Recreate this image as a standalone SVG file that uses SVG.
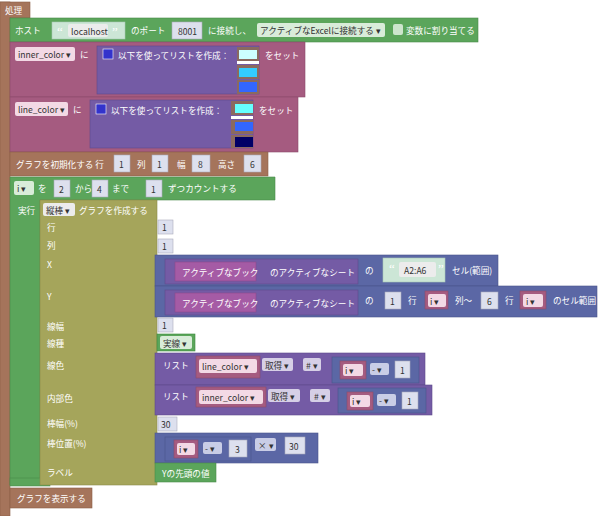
<svg xmlns="http://www.w3.org/2000/svg" width="600" height="516" viewBox="0 0 600 516">
<style>
text{font-family:"Noto Sans CJK JP","Liberation Sans",sans-serif;font-size:8.6px;fill:#fff;dominant-baseline:central}
.d{fill:#333}
.q{font-size:13px;font-family:"Liberation Serif",serif}
.br{fill:#A5745B;stroke:#8a5f48;stroke-width:.6}
.gr{fill:#5BA55B;stroke:#4a8a4a;stroke-width:.6}
.pk{fill:#A55B80;stroke:#8a4a6a;stroke-width:.6}
.pu{fill:#745BA5;stroke:#5e4a8a;stroke-width:.6}
.bl{fill:#5B67A5;stroke:#4a548a;stroke-width:.6}
.ol{fill:#A5A55B;stroke:#8a8a4a;stroke-width:.6}
.mg{fill:#A55BA5;stroke:#8a4a8a;stroke-width:.6}
.num{fill:#dde0ee;stroke:#aab;stroke-width:.6}
.f{fill:#ececec}
.vf{fill:#f3d9e5}
.str{fill:#cce6d6;stroke:#a8c8b4;stroke-width:.6}
</style>
<g id="proc"><rect class="br" x="0" y="2" width="30" height="16"/><rect class="br" x="0" y="2" width="10" height="514"/><rect x="1" y="3" width="28" height="14" fill="#A5745B"/><text x="5" y="10">処理</text></g>
<g id="host"><rect class="gr" x="10" y="18" width="468" height="24"/><text x="15" y="30">ホスト</text><rect class="str" x="52" y="22" width="73" height="17"/><text class="q" x="57" y="31" style="fill:#fff">“</text><rect class="f" x="68" y="24" width="40" height="13" rx="2"/><text class="d" x="71" y="30.5">localhost</text><text class="q" x="112" y="31" style="fill:#fff">”</text><text x="131" y="30">のポート</text><rect class="num" x="172" y="22" width="30" height="17"/><text class="d" x="178" y="30.5">8001</text><text x="208" y="30">に接続し、</text><rect class="f" x="257" y="23" width="128" height="14" rx="2" style="fill:#d9ecd9"/><text class="d" x="260" y="30">アクティブなExcelに接続する ▾</text><rect class="f" x="393" y="24" width="10" height="11" rx="2" style="fill:#cde5cd"/><text x="406" y="30">変数に割り当てる</text></g>
<g id="inner"><rect class="pk" x="10" y="42" width="295" height="55"/><rect class="vf" x="15" y="47" width="60" height="14" rx="2"/><text class="d" x="18" y="54">inner_color ▾</text><text x="80" y="54">に</text><rect class="pu" x="97" y="46" width="162" height="48"/><rect x="103" y="49" width="10" height="10" fill="#3333cc" stroke="#fff" stroke-width=".6"/><text x="118" y="55">以下を使ってリストを作成：</text><rect x="237" y="47" width="22" height="14" fill="#8a6a60"/><rect x="239" y="50" width="18" height="9" fill="#ccffff"/><rect x="237" y="61" width="22" height="3" fill="#fff"/><rect x="237" y="65" width="22" height="14" fill="#8a6a60"/><rect x="239" y="68" width="18" height="9" fill="#33ccff"/><rect x="237" y="80" width="22" height="14" fill="#8a6a60"/><rect x="239" y="82" width="18" height="10" fill="#3366ff"/><text x="265" y="55">をセット</text></g>
<g id="line"><rect class="pk" x="10" y="97" width="288" height="55"/><rect class="vf" x="15" y="102" width="53" height="14" rx="2"/><text class="d" x="18" y="109">line_color ▾</text><text x="73" y="109">に</text><rect class="pu" x="90" y="100" width="163" height="48"/><rect x="96" y="104" width="10" height="10" fill="#3333cc" stroke="#fff" stroke-width=".6"/><text x="111" y="110">以下を使ってリストを作成：</text><rect x="231" y="101" width="22" height="14" fill="#8a6a60"/><rect x="235" y="104" width="18" height="9" fill="#66ffff"/><rect x="231" y="116" width="22" height="3" fill="#fff"/><rect x="231" y="120" width="22" height="14" fill="#8a6a60"/><rect x="235" y="122" width="18" height="9" fill="#3366ff"/><rect x="231" y="135" width="22" height="13" fill="#8a6a60"/><rect x="235" y="137" width="18" height="10" fill="#000066"/><text x="259" y="110">をセット</text></g>
<g id="init"><rect class="br" x="10" y="152" width="258" height="24"/><text x="16" y="164">グラフを初期化する 行</text><rect class="num" x="114" y="155" width="16" height="17"/><text class="d" x="119" y="164">1</text><text x="137" y="164">列</text><rect class="num" x="152" y="155" width="16" height="17"/><text class="d" x="157" y="164">1</text><text x="177" y="164">幅</text><rect class="num" x="192" y="155" width="18" height="17"/><text class="d" x="198" y="164">8</text><text x="218" y="164">高さ</text><rect class="num" x="244" y="155" width="17" height="17"/><text class="d" x="250" y="164">6</text></g>
<g id="loop"><path class="gr" d="M10 177h265v23h-235v278h0v7h-30z"/><rect class="gr" x="10" y="478" width="40" height="8"/><rect class="vf" x="14" y="181" width="20" height="14" rx="2" style="fill:#d9ecd9"/><text class="d" x="17" y="188">i ▾</text><text x="38" y="188">を</text><rect class="num" x="54" y="180" width="16" height="17"/><text class="d" x="59" y="189">2</text><text x="75" y="188">から</text><rect class="num" x="92" y="180" width="16" height="17"/><text class="d" x="97" y="189">4</text><text x="112" y="188">まで</text><rect class="num" x="146" y="180" width="16" height="17"/><text class="d" x="151" y="189">1</text><text x="168" y="188">ずつカウントする</text><text x="18" y="210">実行</text></g>
<g id="graph"><rect class="ol" x="40" y="200" width="117" height="285"/><rect class="f" x="43" y="203" width="32" height="13" rx="2"/><text class="d" x="46" y="209.5">縦棒 ▾</text><text x="79" y="210">グラフを作成する</text>
<text x="47" y="227">行</text><text x="47" y="245">列</text><text x="47" y="264">X</text><text x="47" y="296">Y</text><text x="47" y="326">線幅</text><text x="47" y="343">線種</text><text x="47" y="365">線色</text><text x="47" y="398">内部色</text><text x="47" y="423">棒幅(%)</text><text x="47" y="443">棒位置(%)</text><text x="47" y="472">ラベル</text></g>
<g id="vals">
<rect class="num" x="158" y="220" width="15" height="14"/><text class="d" x="162" y="227">1</text>
<rect class="num" x="158" y="239" width="15" height="14"/><text class="d" x="162" y="246">1</text>
<rect class="bl" x="155" y="255" width="343" height="31"/><rect class="pu" x="165" y="259" width="193" height="25"/><rect class="mg" x="175" y="262" width="81" height="19"/><text x="182" y="271.5">アクティブなブック</text><text x="270" y="271.5">のアクティブなシート</text><text x="365" y="270">の</text><rect class="str" x="383" y="258" width="62" height="24"/><text class="q" x="389" y="268">“</text><rect class="f" x="399" y="262" width="37" height="15" rx="2"/><text class="d" x="404" y="269.5">A2:A6</text><text class="q" x="438" y="268">”</text><text x="452" y="270">セル(範囲)</text>
<rect class="bl" x="155" y="286" width="442" height="31"/><rect class="pu" x="165" y="290" width="193" height="25"/><rect class="mg" x="175" y="293" width="81" height="19"/><text x="182" y="302.5">アクティブなブック</text><text x="270" y="302.5">のアクティブなシート</text><text x="365" y="300">の</text><rect class="num" x="385" y="292" width="16" height="17"/><text class="d" x="390" y="301">1</text><text x="408" y="300">行</text><rect class="pk" x="425" y="291" width="23" height="18"/><rect class="vf" x="428" y="294" width="18" height="13" rx="2"/><text class="d" x="430" y="300.5">i ▾</text><text x="455" y="300">列～</text><rect class="num" x="481" y="292" width="17" height="17"/><text class="d" x="487" y="301">6</text><text x="505" y="300">行</text><rect class="pk" x="520" y="291" width="26" height="18"/><rect class="vf" x="523" y="294" width="20" height="13" rx="2"/><text class="d" x="526" y="300.5">i ▾</text><text x="553" y="300">のセル範囲</text>
<rect class="num" x="158" y="318" width="15" height="14"/><text class="d" x="162" y="325">1</text>
<rect class="gr" x="157" y="334" width="38" height="17" style="stroke:#3d8a3d"/><rect x="160" y="336" width="32" height="13" rx="2" fill="#d9ecd9"/><text class="d" x="163" y="342.5">実線 ▾</text>
<rect class="pu" x="155" y="353" width="270" height="32"/><text x="163" y="365">リスト</text><rect class="pk" x="196" y="356" width="64" height="22"/><rect class="vf" x="199" y="359" width="58" height="14" rx="2"/><text class="d" x="202" y="366">line_color ▾</text><rect class="f" x="262" y="358" width="31" height="13" rx="2" style="fill:#d6cfe6"/><text class="d" x="265" y="364.5">取得 ▾</text><rect class="f" x="303" y="358" width="18" height="13" rx="2" style="fill:#d6cfe6"/><text class="d" x="306" y="364.5"># ▾</text><rect class="bl" x="332" y="357" width="87" height="26"/><rect class="pk" x="340" y="361" width="26" height="18"/><rect class="vf" x="343" y="364" width="20" height="12" rx="2"/><text class="d" x="345" y="370">i ▾</text><rect class="f" x="370" y="363" width="19" height="12" rx="2" style="fill:#c9cde6"/><text class="d" x="372" y="369">- ▾</text><rect class="num" x="395" y="361" width="15" height="17"/><text class="d" x="400" y="370">1</text>
<rect class="pu" x="155" y="385" width="277" height="30"/><text x="163" y="396">リスト</text><rect class="pk" x="196" y="387" width="70" height="20"/><rect class="vf" x="199" y="390" width="64" height="14" rx="2"/><text class="d" x="202" y="397">inner_color ▾</text><rect class="f" x="268" y="389" width="32" height="13" rx="2" style="fill:#d6cfe6"/><text class="d" x="271" y="395.5">取得 ▾</text><rect class="f" x="310" y="389" width="20" height="13" rx="2" style="fill:#d6cfe6"/><text class="d" x="314" y="395.5"># ▾</text><rect class="bl" x="338" y="388" width="88" height="25"/><rect class="pk" x="347" y="392" width="26" height="18"/><rect class="vf" x="350" y="395" width="20" height="12" rx="2"/><text class="d" x="352" y="401">i ▾</text><rect class="f" x="377" y="394" width="19" height="12" rx="2" style="fill:#c9cde6"/><text class="d" x="379" y="400">- ▾</text><rect class="num" x="402" y="392" width="16" height="17"/><text class="d" x="407" y="401">1</text>
<rect class="num" x="158" y="417" width="19" height="14"/><text class="d" x="161" y="424">30</text>
<rect class="bl" x="155" y="433" width="163" height="30"/><rect class="bl" x="165" y="437" width="86" height="24"/><rect class="pk" x="174" y="440" width="24" height="18"/><rect class="vf" x="177" y="443" width="18" height="12" rx="2"/><text class="d" x="179" y="449">i ▾</text><rect class="f" x="203" y="442" width="19" height="12" rx="2" style="fill:#c9cde6"/><text class="d" x="205" y="448">- ▾</text><rect class="num" x="229" y="440" width="18" height="17"/><text class="d" x="235" y="449">3</text><rect class="f" x="255" y="438" width="21" height="13" rx="2" style="fill:#c9cde6"/><text class="d" x="258" y="444.5">× ▾</text><rect class="num" x="285" y="437" width="20" height="17"/><text class="d" x="289" y="446">30</text>
<rect class="gr" x="155" y="463" width="61" height="19"/><text x="162" y="472.5">Yの先頭の値</text>
</g>
<g id="show"><rect class="br" x="10" y="488" width="82" height="20"/><text x="17" y="498">グラフを表示する</text></g>
<g id="connectors"/>
</svg>
